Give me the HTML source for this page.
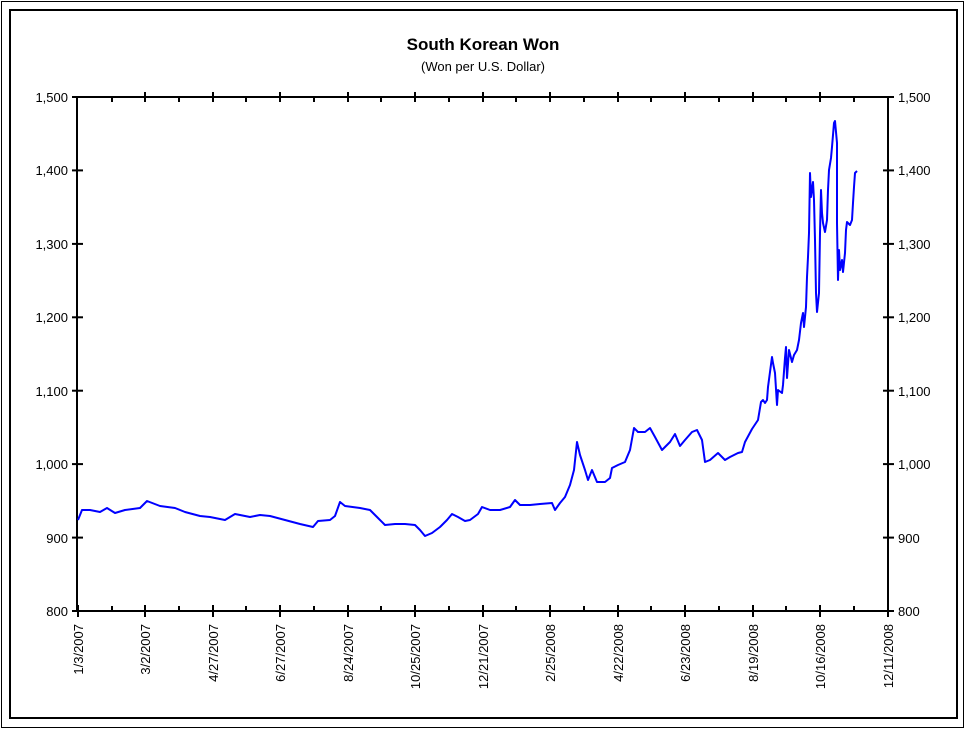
<!DOCTYPE html>
<html><head><meta charset="utf-8"><style>
html,body{margin:0;padding:0;background:#fff;}
svg{display:block;font-family:"Liberation Sans",Arial,sans-serif;}
</style></head><body>
<svg width="966" height="730" viewBox="0 0 966 730" xmlns="http://www.w3.org/2000/svg">
<rect x="0" y="0" width="966" height="730" fill="#fff"/>
<rect x="1.5" y="1.5" width="962" height="726" fill="none" stroke="#000" stroke-width="1"/>
<rect x="10" y="10" width="947" height="708" fill="none" stroke="#000" stroke-width="2"/>
<text x="483" y="50" text-anchor="middle" font-size="17" font-weight="bold">South Korean Won</text>
<text x="483" y="71" text-anchor="middle" font-size="13">(Won per U.S. Dollar)</text>
<g stroke="#000" stroke-width="2" fill="none">
<line x1="77" y1="97" x2="889" y2="97"/>
<line x1="77" y1="611" x2="889" y2="611"/>
<line x1="77" y1="97" x2="77" y2="611"/>
<line x1="888" y1="97" x2="888" y2="611"/>
</g>
<g stroke="#000" stroke-width="2" id="ticks">
<!-- y ticks -->
<line x1="72" y1="97" x2="83" y2="97"/><line x1="72" y1="170.4" x2="83" y2="170.4"/><line x1="72" y1="243.9" x2="83" y2="243.9"/><line x1="72" y1="317.3" x2="83" y2="317.3"/><line x1="72" y1="390.7" x2="83" y2="390.7"/><line x1="72" y1="464.1" x2="83" y2="464.1"/><line x1="72" y1="537.6" x2="83" y2="537.6"/><line x1="72" y1="611" x2="83" y2="611"/>
<line x1="883" y1="97" x2="894" y2="97"/><line x1="883" y1="170.4" x2="894" y2="170.4"/><line x1="883" y1="243.9" x2="894" y2="243.9"/><line x1="883" y1="317.3" x2="894" y2="317.3"/><line x1="883" y1="390.7" x2="894" y2="390.7"/><line x1="883" y1="464.1" x2="894" y2="464.1"/><line x1="883" y1="537.6" x2="894" y2="537.6"/><line x1="883" y1="611" x2="894" y2="611"/>
</g>
<g stroke="#000" stroke-width="2">
<!-- x major ticks bottom & top -->
<g id="xt"></g>
</g>
<g font-size="13" text-anchor="end">
<text x="68" y="102">1,500</text><text x="68" y="175">1,400</text><text x="68" y="249">1,300</text><text x="68" y="322">1,200</text><text x="68" y="396">1,100</text><text x="68" y="469">1,000</text><text x="68" y="543">900</text><text x="68" y="616">800</text>
</g>
<g font-size="13" text-anchor="start">
<text x="898" y="102">1,500</text><text x="898" y="175">1,400</text><text x="898" y="249">1,300</text><text x="898" y="322">1,200</text><text x="898" y="396">1,100</text><text x="898" y="469">1,000</text><text x="898" y="543">900</text><text x="898" y="616">800</text>
</g>
<g stroke="#000" stroke-width="2">
<line x1="78" y1="605" x2="78" y2="617"/><line x1="145" y1="605" x2="145" y2="617"/><line x1="213" y1="605" x2="213" y2="617"/><line x1="280" y1="605" x2="280" y2="617"/><line x1="348" y1="605" x2="348" y2="617"/><line x1="415" y1="605" x2="415" y2="617"/><line x1="483" y1="605" x2="483" y2="617"/><line x1="550" y1="605" x2="550" y2="617"/><line x1="618" y1="605" x2="618" y2="617"/><line x1="685" y1="605" x2="685" y2="617"/><line x1="753" y1="605" x2="753" y2="617"/><line x1="820" y1="605" x2="820" y2="617"/><line x1="888" y1="605" x2="888" y2="617"/>
<line x1="112" y1="606" x2="112" y2="611"/><line x1="179" y1="606" x2="179" y2="611"/><line x1="246" y1="606" x2="246" y2="611"/><line x1="314" y1="606" x2="314" y2="611"/><line x1="381" y1="606" x2="381" y2="611"/><line x1="449" y1="606" x2="449" y2="611"/><line x1="516" y1="606" x2="516" y2="611"/><line x1="584" y1="606" x2="584" y2="611"/><line x1="651" y1="606" x2="651" y2="611"/><line x1="719" y1="606" x2="719" y2="611"/><line x1="786" y1="606" x2="786" y2="611"/><line x1="854" y1="606" x2="854" y2="611"/>
<line x1="145" y1="92" x2="145" y2="102"/><line x1="213" y1="92" x2="213" y2="102"/><line x1="280" y1="92" x2="280" y2="102"/><line x1="348" y1="92" x2="348" y2="102"/><line x1="415" y1="92" x2="415" y2="102"/><line x1="483" y1="92" x2="483" y2="102"/><line x1="550" y1="92" x2="550" y2="102"/><line x1="618" y1="92" x2="618" y2="102"/><line x1="685" y1="92" x2="685" y2="102"/><line x1="753" y1="92" x2="753" y2="102"/><line x1="820" y1="92" x2="820" y2="102"/>
<line x1="112" y1="97" x2="112" y2="102"/><line x1="179" y1="97" x2="179" y2="102"/><line x1="246" y1="97" x2="246" y2="102"/><line x1="314" y1="97" x2="314" y2="102"/><line x1="381" y1="97" x2="381" y2="102"/><line x1="449" y1="97" x2="449" y2="102"/><line x1="516" y1="97" x2="516" y2="102"/><line x1="584" y1="97" x2="584" y2="102"/><line x1="651" y1="97" x2="651" y2="102"/><line x1="719" y1="97" x2="719" y2="102"/><line x1="786" y1="97" x2="786" y2="102"/><line x1="854" y1="97" x2="854" y2="102"/>
</g>
<g font-size="13" text-anchor="end">
<text transform="translate(83,624) rotate(-90)">1/3/2007</text>
<text transform="translate(150,624) rotate(-90)">3/2/2007</text>
<text transform="translate(218,624) rotate(-90)">4/27/2007</text>
<text transform="translate(285,624) rotate(-90)">6/27/2007</text>
<text transform="translate(353,624) rotate(-90)">8/24/2007</text>
<text transform="translate(420,624) rotate(-90)">10/25/2007</text>
<text transform="translate(488,624) rotate(-90)">12/21/2007</text>
<text transform="translate(555,624) rotate(-90)">2/25/2008</text>
<text transform="translate(623,624) rotate(-90)">4/22/2008</text>
<text transform="translate(690,624) rotate(-90)">6/23/2008</text>
<text transform="translate(758,624) rotate(-90)">8/19/2008</text>
<text transform="translate(825,624) rotate(-90)">10/16/2008</text>
<text transform="translate(893,624) rotate(-90)">12/11/2008</text>
</g>
<polyline fill="none" stroke="#0000ff" stroke-width="2" stroke-linejoin="round" points="
78,520 82,510 90,510 100,512 107,508 115,513 125,510 140,508 147,501 160,506 175,508 185,512 200,516 210,517 225,520 235,514 250,517 260,515 270,516 285,520 300,524 313,527 318,521 330,520 335,516 340,502 345,506 360,508 370,510 378,518 385,525 395,524 405,524 415,525 420,530 425,536 432,533 440,527 447,520 452,514 458,517 465,521 470,520 478,514 482,507 490,510 500,510 510,507 515,500 520,505 530,505 540,504 552,503 555,510 560,503 565,497 570,485 574,470 577,442 580,455 585,470 588,480 592,470 597,482 605,482 610,478 612,468 618,465 625,462 630,450 634,428 638,432 645,432 650,428 655,437 662,450 670,442 675,434 680,446 685,440 692,432 697,430 702,440 705,462 710,460 718,453 725,460 730,457 738,453 742,452 745,442 752,429 758,420 761,402 763,400 765,403 767,400 768,387 772,357 773,363 775,373 777,405 778,390 782,393 783,385 785,358 786,347 787,378 789,350 792,362 794,355 797,350 799,340 801,323 803,313 804,327 806,307 807,277 808,257 809,233 810,173 811,197 813,182 814,200 815,240 816,293 817,312 819,293 820,233 821,190 822,213 823,223 825,232 827,220 828,190 829,170 831,158 832,147 834,123 835,121 836,132 837,143 837,223 838,280 839,250 840,270 842,260 843,272 845,253 846,230 847,222 850,225 852,220 853,203 854,187 855,173 857,171"/>
</svg>
</body></html>
